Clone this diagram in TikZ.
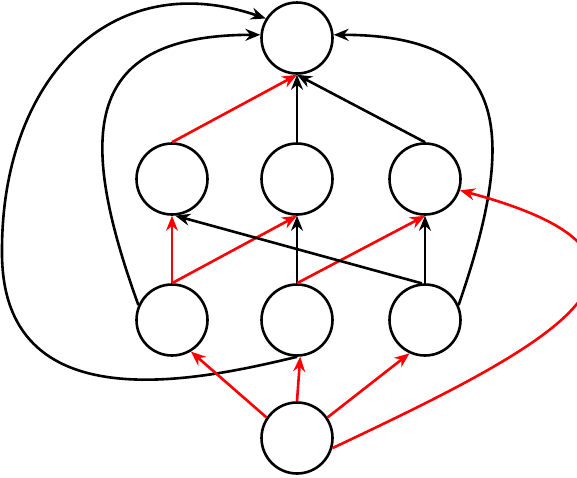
\documentclass[tikz,border=0pt]{standalone}
\usetikzlibrary{arrows.meta}

\begin{document}
\begin{tikzpicture}[
    x=1pt, y=-1pt,
    vertex/.style={circle, draw=black, fill=white, line width=2.6pt,
                   minimum size=71pt, inner sep=0pt},
    arrow/.style={-{Stealth[length=15pt, width=12pt, inset=5pt]}, line width=2.6pt, draw=black},
    redarrow/.style={arrow, draw=red}
]
\useasboundingbox (0,0) rectangle (577,477);

\node[vertex] (top) at (297,38) {};
\node[vertex] (m1) at (172,179) {};
\node[vertex] (m2) at (297,179) {};
\node[vertex] (m3) at (425,179) {};
\node[vertex] (l1) at (172,320) {};
\node[vertex] (l2) at (297,320) {};
\node[vertex] (l3) at (425,320) {};
\node[vertex] (bot) at (297,438) {};

\draw[redarrow] (m1.north) -- (top.south);
\draw[arrow] (m2.north) -- (top.south);
\draw[arrow] (m3.north) -- (top.south);

\draw[redarrow] (l1.north) -- (m1.south);
\draw[redarrow] (l1.north) -- (m2.south);
\draw[arrow] (l2.north) -- (m2.south);
\draw[redarrow] (l2.north) -- (m3.south);
\draw[arrow] (l3.north) -- (m3.south);
\draw[arrow] (l3.95) -- (m1.-85);

\draw[arrow] (l1.156) .. controls (75,130) and (85,35) .. (top.175);
\draw[arrow] (l3.24) .. controls (519,130) and (509,35) .. (top.5);
\draw[arrow] (l2.south) .. controls (200,380) and (0,425) .. (2,250)
    .. controls (2,80) and (110,-35) .. (top.148);

\draw[redarrow] (bot.146) -- (l1.-59);
\draw[redarrow] (bot.north) -- (l2.-85);
\draw[redarrow] (bot.34) -- (l3.-115);
\draw[redarrow] (bot.-16) .. controls (540,350) and (720,260) .. (m3.-18);

\end{tikzpicture}
\end{document}
